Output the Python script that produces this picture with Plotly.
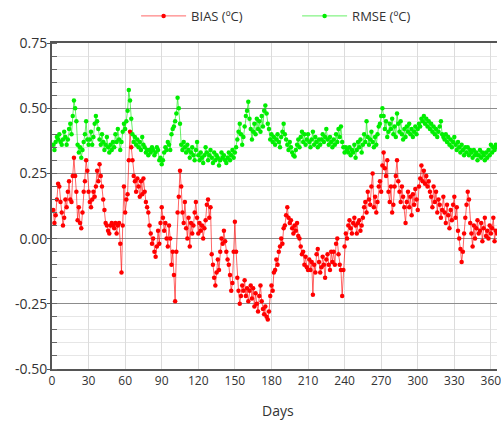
import plotly.graph_objects as go

# Day of year for each daily value
days = list(range(1, 366))

# Daily BIAS (ºC)
bias = [
    0.11, 0.06, 0.09, 0.15, 0.21, 0.20, 0.14, 0.10, 0.05, 0.08,
    0.15, 0.12, 0.18, 0.22, 0.15, 0.14, 0.24, 0.31, 0.24, 0.18,
    0.07, 0.12, 0.06, 0.04, 0.10, 0.18, 0.22, 0.30, 0.26, 0.18,
    0.14, 0.12, 0.15, 0.18, 0.16, 0.20, 0.26, 0.22, 0.285, 0.24,
    0.20, 0.15, 0.11, 0.06, 0.05, 0.03, 0.02, 0.05, 0.06, 0.05,
    0.04, 0.06, 0.02, 0.05, 0.06, -0.02, -0.13, 0.05, 0.20, 0.10,
    0.15, 0.17, 0.30, 0.41, 0.35, 0.30, 0.24, 0.22, 0.18, 0.23,
    0.20, 0.16, 0.22, 0.17, 0.23, 0.18, 0.14, 0.12, 0.10, 0.05,
    0.02, -0.02, 0.00, -0.05, -0.07, -0.03, 0.03, -0.02, 0.06, 0.12,
    0.08, 0.03, 0.06, 0.00, -0.03, 0.05, 0.00, -0.10, -0.05, -0.14,
    -0.24, -0.05, 0.10, 0.16, 0.26, 0.20, 0.10, 0.06, 0.14, 0.04,
    0.00, 0.08, -0.03, 0.06, 0.02, 0.05, 0.10, 0.14, 0.08, 0.02,
    0.06, 0.03, 0.05, 0.00, 0.04, 0.07, 0.13, 0.15, 0.08, 0.12,
    -0.06, -0.10, -0.15, -0.18, -0.13, -0.08, -0.12, -0.05, 0.00, -0.02,
    0.03, -0.01, -0.05, -0.08, -0.10, -0.14, -0.20, -0.17, -0.05, 0.065,
    -0.05, -0.15, -0.20, -0.25, -0.22, -0.18, -0.20, -0.16, -0.22, -0.19,
    -0.24, -0.20, -0.18, -0.23, -0.19, -0.26, -0.21, -0.25, -0.28, -0.22,
    -0.18, -0.24, -0.27, -0.29, -0.26, -0.30, -0.31, -0.28, -0.22, -0.18,
    -0.20, -0.13, -0.12, -0.08, -0.10, -0.05, -0.03, 0.00, -0.02, 0.04,
    0.05, 0.09, 0.12, 0.08, 0.06, 0.07, 0.04, 0.02, 0.05, 0.03,
    0.06, 0.01, 0.00, -0.03, -0.06, -0.05, -0.10, -0.07, -0.11, -0.12,
    -0.08, -0.12, -0.09, -0.215, -0.10, -0.13, -0.06, -0.04, -0.09, -0.13,
    -0.11, -0.07, -0.10, -0.15, -0.08, -0.06, -0.10, -0.12, -0.05, -0.09,
    -0.05, -0.10, -0.02, 0.00, -0.06, -0.10, -0.12, -0.22, -0.12, -0.03,
    0.02, 0.00, 0.05, 0.07, 0.04, 0.02, 0.06, 0.08, 0.05, 0.02,
    0.06, 0.07, 0.03, 0.05, 0.08, 0.12, 0.14, 0.10, 0.18, 0.15,
    0.13, 0.20, 0.25, 0.12, 0.16, 0.10, 0.14, 0.20, 0.22, 0.18,
    0.28, 0.33, 0.27, 0.24, 0.30, 0.18, 0.14, 0.20, 0.10, 0.13,
    0.20, 0.24, 0.30, 0.22, 0.18, 0.14, 0.20, 0.16, 0.12, 0.06,
    0.14, 0.18, 0.12, 0.16, 0.09, 0.17, 0.13, 0.19, 0.15, 0.11,
    0.20, 0.23, 0.28, 0.22, 0.26, 0.21, 0.24, 0.20, 0.22, 0.18,
    0.16, 0.12, 0.20, 0.14, 0.18, 0.10, 0.15, 0.13, 0.08, 0.11,
    0.16, 0.10, 0.06, 0.13, 0.09, 0.04, 0.11, 0.07, 0.13, 0.16,
    0.08, 0.12, 0.03, 0.00, -0.04, -0.09, -0.05, 0.02, 0.08, 0.13,
    0.18, 0.15, 0.06, 0.02, -0.03, 0.05, 0.00, 0.04, 0.07, 0.02,
    0.03, 0.06, -0.01, 0.04, 0.08, 0.01, 0.03, 0.00, 0.05, 0.02,
    0.04, 0.08, -0.01, 0.03, 0.02,
]

# Daily RMSE (ºC)
rmse = [
    0.36, 0.34, 0.37, 0.39, 0.38, 0.40, 0.37, 0.36, 0.38, 0.41,
    0.39, 0.36, 0.38, 0.42, 0.44, 0.40, 0.47, 0.53, 0.50, 0.45,
    0.36, 0.33, 0.35, 0.31, 0.34, 0.37, 0.40, 0.45, 0.38, 0.36,
    0.38, 0.41, 0.36, 0.39, 0.44, 0.47, 0.45, 0.42, 0.38, 0.36,
    0.40, 0.37, 0.34, 0.36, 0.39, 0.35, 0.33, 0.36, 0.34, 0.37,
    0.35, 0.40, 0.37, 0.42, 0.38, 0.34, 0.37, 0.41, 0.44, 0.42,
    0.45, 0.49, 0.57, 0.53, 0.46, 0.40, 0.37, 0.39, 0.36, 0.38,
    0.35, 0.37, 0.34, 0.39, 0.36, 0.35, 0.33, 0.34, 0.32, 0.34,
    0.33, 0.35, 0.34, 0.32, 0.33, 0.35, 0.34, 0.30, 0.31, 0.285,
    0.30, 0.33, 0.35, 0.34, 0.37, 0.36, 0.34, 0.40, 0.42, 0.43,
    0.45, 0.48, 0.54, 0.50, 0.44, 0.36, 0.34, 0.37, 0.35, 0.33,
    0.36, 0.34, 0.31, 0.33, 0.35, 0.32, 0.30, 0.34, 0.37, 0.32,
    0.30, 0.33, 0.31, 0.29, 0.32, 0.35, 0.33, 0.30, 0.32, 0.34,
    0.31, 0.29, 0.33, 0.30, 0.32, 0.31, 0.28, 0.30, 0.33, 0.31,
    0.32, 0.30, 0.29, 0.31, 0.33, 0.30, 0.32, 0.34, 0.31, 0.33,
    0.35, 0.38, 0.41, 0.44, 0.40, 0.36, 0.39, 0.43, 0.47, 0.49,
    0.525, 0.46, 0.42, 0.38, 0.41, 0.44, 0.40, 0.46, 0.42, 0.45,
    0.41, 0.47, 0.43, 0.49, 0.51, 0.48, 0.44, 0.42, 0.38, 0.40,
    0.37, 0.39, 0.36, 0.38, 0.40, 0.37, 0.35, 0.39, 0.41, 0.44,
    0.40, 0.38, 0.36, 0.34, 0.37, 0.35, 0.33, 0.32, 0.315, 0.34,
    0.36, 0.38, 0.35, 0.39, 0.41, 0.37, 0.40, 0.36, 0.38, 0.40,
    0.37, 0.35, 0.38, 0.41, 0.36, 0.39, 0.37, 0.35, 0.38, 0.36,
    0.38, 0.40, 0.37, 0.39, 0.42, 0.38, 0.36, 0.39, 0.37, 0.35,
    0.38, 0.36, 0.40, 0.37, 0.42, 0.39, 0.43, 0.37, 0.35, 0.33,
    0.35, 0.34, 0.33, 0.35, 0.32, 0.34, 0.33, 0.36, 0.31, 0.34,
    0.37, 0.35, 0.38, 0.33, 0.36, 0.40, 0.37, 0.45, 0.39, 0.36,
    0.38, 0.41, 0.37, 0.35, 0.39, 0.36, 0.40, 0.43, 0.44, 0.47,
    0.50, 0.47, 0.42, 0.45, 0.39, 0.41, 0.44, 0.42, 0.46, 0.40,
    0.43, 0.39, 0.48, 0.44, 0.41, 0.45, 0.40, 0.38, 0.42, 0.39,
    0.43, 0.41, 0.44, 0.40, 0.42, 0.39, 0.41, 0.43, 0.40, 0.42,
    0.44, 0.43, 0.46, 0.45, 0.47, 0.44, 0.46, 0.43, 0.45, 0.42,
    0.44, 0.41, 0.43, 0.40, 0.42, 0.39, 0.41, 0.43, 0.45, 0.40,
    0.39, 0.38, 0.40, 0.37, 0.39, 0.36, 0.38, 0.35, 0.37, 0.39,
    0.36, 0.34, 0.37, 0.35, 0.33, 0.36, 0.34, 0.32, 0.35, 0.33,
    0.35, 0.32, 0.34, 0.33, 0.31, 0.34, 0.32, 0.33, 0.30, 0.32,
    0.34, 0.31, 0.33, 0.32, 0.30, 0.33, 0.31, 0.34, 0.32, 0.36,
    0.33, 0.35, 0.34, 0.36, 0.35,
]

# Axis ticks
x_ticks = list(range(0, 361, 30))
y_ticks = [-0.50, -0.25, 0.00, 0.25, 0.50, 0.75]
y_tick_labels = ["-0.50", "-0.25", "0.00", "0.25", "0.50", "0.75"]

FONT = "Open Sans, Noto Sans, sans-serif"
TEXT = "#333333"

fig = go.Figure()
fig.add_trace(go.Scatter(
    x=days, y=bias, name="BIAS (ºC)", mode="lines+markers",
    line=dict(color="rgba(255,0,0,0.6)", width=1),
    marker=dict(color="#ff0000", size=4.5),
))
fig.add_trace(go.Scatter(
    x=days, y=rmse, name="RMSE (ºC)", mode="lines+markers",
    line=dict(color="rgba(0,230,0,0.6)", width=1),
    marker=dict(color="#00ee00", size=4.5),
))

fig.update_layout(
    width=501, height=421,
    margin=dict(l=52, r=0, t=43, b=52),
    plot_bgcolor="white", paper_bgcolor="white",
    font=dict(family=FONT, color=TEXT),
    showlegend=True,
    legend=dict(
        orientation="h", x=0.189, xanchor="left", y=1.083, yanchor="middle",
        font=dict(size=13, color=TEXT), itemwidth=45, entrywidth=101,
        bgcolor="rgba(0,0,0,0)",
    ),
    xaxis=dict(
        range=[0, 365], tickmode="array", tickvals=x_ticks,
        showgrid=True, gridcolor="#dcdcdc", gridwidth=1,
        showline=True, linecolor="#555555", linewidth=2, mirror=True,
        ticks="", tickfont=dict(size=12, color=TEXT),
        ticklabeloverflow="allow",
        zeroline=False,
    ),
    yaxis=dict(
        range=[-0.5, 0.75], tickmode="array", tickvals=y_ticks, ticktext=y_tick_labels,
        showgrid=True, gridcolor="#8c8c8c", gridwidth=1,
        showline=True, linecolor="#555555", linewidth=2,
        ticks="outside", ticklen=3, tickcolor="#555555",
        tickfont=dict(size=14, color=TEXT), ticklabelstandoff=-3,
        zeroline=False,
        minor=dict(dtick=0.05, tick0=0, showgrid=True, gridcolor="#e6e6e6",
                   ticks="inside", ticklen=5, tickcolor="#666666"),
    ),
    annotations=[dict(
        text="Days", xref="paper", yref="paper", x=0.508, y=0,
        xanchor="center", yanchor="middle", yshift=-41, showarrow=False,
        font=dict(size=14, color=TEXT),
    )],
)

fig.write_html("out.html")
